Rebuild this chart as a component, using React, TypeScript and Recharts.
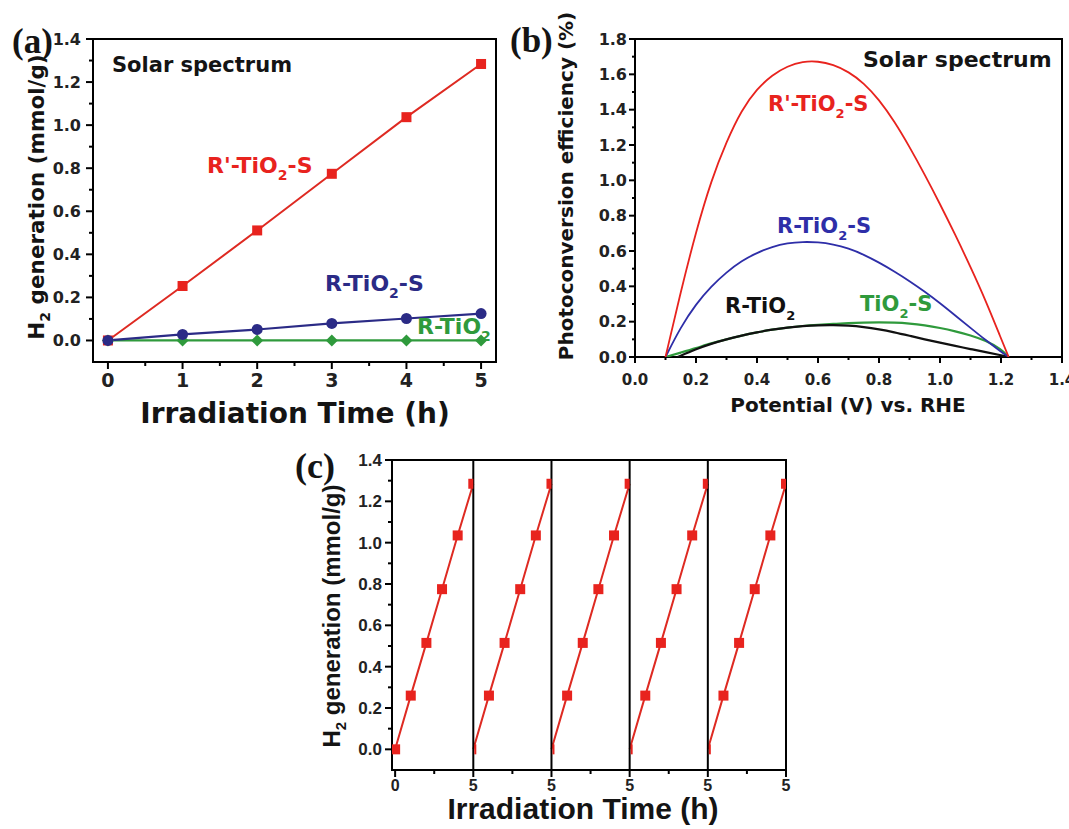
import React from 'react';
import { LineChart, Line, XAxis, YAxis, ReferenceArea, ReferenceLine } from 'recharts';

const SANS = '"DejaVu Sans", Verdana, sans-serif';
const ARIAL = '"Liberation Sans", Arial, sans-serif';
const SERIF = '"Liberation Serif", "Times New Roman", serif';

const RED = '#e8231e';
const RED_LINE = '#de2a22';
const NAVY = '#2b2b86';
const BLUE = '#2e2ea8';
const GREEN = '#2f9a3c';
const INK = '#141414';

// ---------- panel (a) ----------
const timeA = [0, 1, 2, 3, 4, 5];
const rPrimeTiO2S_A = [0, 0.253, 0.511, 0.774, 1.037, 1.284];
const rTiO2S_A = [0, 0.028, 0.051, 0.079, 0.102, 0.125];
const rTiO2_A = [0, 0, 0, 0, 0, 0];
const aXMajor = [0, 1, 2, 3, 4, 5];
const aXMinor = [0.5, 1.5, 2.5, 3.5, 4.5];
const hYMajor = [0, 0.2, 0.4, 0.6, 0.8, 1.0, 1.2, 1.4];
const hYMinor = [0.1, 0.3, 0.5, 0.7, 0.9, 1.1, 1.3];

// ---------- panel (b) ----------
const potB = [0.1, 0.15, 0.2, 0.25, 0.3, 0.35, 0.4, 0.45, 0.5, 0.55, 0.6, 0.65, 0.7, 0.75, 0.8, 0.85, 0.9, 0.95, 1.0, 1.05, 1.1, 1.15, 1.2, 1.225];
const rPrimeTiO2S_B = [0, 0.37, 0.71, 1.0, 1.22, 1.4, 1.518, 1.597, 1.647, 1.673, 1.675, 1.655, 1.615, 1.551, 1.457, 1.335, 1.19, 1.032, 0.866, 0.692, 0.51, 0.319, 0.105, 0];
const rTiO2S_B = [0, 0.17, 0.3, 0.4, 0.48, 0.545, 0.59, 0.625, 0.645, 0.652, 0.65, 0.638, 0.615, 0.58, 0.535, 0.485, 0.43, 0.37, 0.305, 0.235, 0.165, 0.095, 0.03, 0];
const tiO2S_B = [0, 0.025, 0.05, 0.078, 0.1, 0.122, 0.14, 0.155, 0.167, 0.176, 0.182, 0.187, 0.192, 0.195, 0.196, 0.195, 0.19, 0.18, 0.165, 0.146, 0.123, 0.093, 0.045, 0];
const potBlackB = [0.14, 0.2, 0.25, 0.3, 0.35, 0.4, 0.45, 0.5, 0.55, 0.6, 0.65, 0.7, 0.75, 0.8, 0.85, 0.9, 0.95, 1.0, 1.05, 1.1, 1.15, 1.2, 1.225];
const rTiO2_B = [0, 0.045, 0.075, 0.1, 0.122, 0.14, 0.155, 0.167, 0.175, 0.18, 0.181, 0.178, 0.17, 0.157, 0.14, 0.12, 0.1, 0.081, 0.063, 0.045, 0.027, 0.01, 0];
const bXMajor = [0, 0.2, 0.4, 0.6, 0.8, 1.0, 1.2, 1.4];
const bXMinor = [0.1, 0.3, 0.5, 0.7, 0.9, 1.1, 1.3];
const bYMajor = [0, 0.2, 0.4, 0.6, 0.8, 1.0, 1.2, 1.4, 1.6, 1.8];
const bYMinor = [0.1, 0.3, 0.5, 0.7, 0.9, 1.1, 1.3, 1.5, 1.7];

// ---------- panel (c) ----------
const cycleTime = [0, 1, 2, 3, 4, 5];
const cycleH2 = [0, 0.26, 0.515, 0.775, 1.035, 1.285];
const cycleStarts = [0, 5, 10, 15, 20];
const cBoundaries = [5, 10, 15, 20];
const cXMajor = [0, 5, 10, 15, 20, 25];
const cXLabels = ['0', '5', '5', '5', '5', '5'];
const cXMinor = [2.5, 7.5, 12.5, 17.5, 22.5];

// ---------- helpers ----------
const zip = (xs: number[], ys: number[]) => xs.map((x, i) => ({ x, y: ys[i] }));

type TickCfg = {
  majors: number[];
  label: (v: number) => string;
  side: 'bottom' | 'left';
  font: string;
  size: number;
  major: number;
  minor: number;
  gap: number;
};

function makeTick(cfg: TickCfg) {
  return (props: any) => {
    const { x, y, payload } = props;
    const v = payload.value as number;
    const isMajor = cfg.majors.some((m) => Math.abs(m - v) < 1e-6);
    const len = isMajor ? cfg.major : cfg.minor;
    if (cfg.side === 'bottom') {
      return (
        <g>
          <line x1={x} x2={x} y1={y} y2={y + len} stroke="#000" strokeWidth={2} />
          {isMajor && (
            <text x={x} y={y + cfg.gap} textAnchor="middle" fontFamily={cfg.font} fontWeight="bold" fontSize={cfg.size} fill="#222">
              {cfg.label(v)}
            </text>
          )}
        </g>
      );
    }
    return (
      <g>
        <line x1={x - len} x2={x} y1={y} y2={y} stroke="#000" strokeWidth={2} />
        {isMajor && (
          <text x={x - cfg.gap} y={y} dy="0.36em" textAnchor="end" fontFamily={cfg.font} fontWeight="bold" fontSize={cfg.size} fill="#222">
            {cfg.label(v)}
          </text>
        )}
      </g>
    );
  };
}

const squareDot = (fill: string, size: number) => (p: any) =>
  p.cx == null ? <g key={`s${p.index}`} /> : <rect key={`s${p.index}`} x={p.cx - size / 2} y={p.cy - size / 2} width={size} height={size} fill={fill} />;
const circleDot = (fill: string, r: number) => (p: any) =>
  p.cx == null ? <g key={`c${p.index}`} /> : <circle key={`c${p.index}`} cx={p.cx} cy={p.cy} r={r} fill={fill} />;
const diamondDot = (fill: string, r: number) => (p: any) =>
  p.cx == null ? (
    <g key={`d${p.index}`} />
  ) : (
    <polygon key={`d${p.index}`} points={`${p.cx},${p.cy - r} ${p.cx + r},${p.cy} ${p.cx},${p.cy + r} ${p.cx - r},${p.cy}`} fill={fill} />
  );

const cycleDot = (cycle: number) => (p: any) => {
  const k = `cy${cycle}-${p.index}`;
  if (p.cx == null) return <g key={k} />;
  const s = 10;
  if (p.index === cycleTime.length - 1) {
    return <rect key={k} x={p.cx - s / 2} y={p.cy - s / 2} width={s / 2} height={s} fill={RED} />;
  }
  if (p.index === 0 && cycle > 0) {
    return <rect key={k} x={p.cx + 1} y={p.cy - s / 2} width={2} height={s} fill={RED} />;
  }
  return <rect key={k} x={p.cx - s / 2} y={p.cy - s / 2} width={s} height={s} fill={RED} />;
};

const fmt1 = (v: number) => v.toFixed(1);

const axisCommon = {
  type: 'number' as const,
  interval: 0 as const,
  tickSize: 0,
  tickMargin: 0,
  axisLine: false,
  tickLine: false,
  allowDataOverflow: true,
};

function PanelA() {
  const ticksX = [...aXMajor, ...aXMinor].sort((a, b) => a - b);
  const ticksY = [...hYMajor, ...hYMinor].sort((a, b) => a - b);
  return (
    <LineChart width={530} height={400} margin={{ top: 39, right: 34, bottom: 37, left: 92 }}>
      <XAxis
        {...axisCommon}
        dataKey="x"
        domain={[-0.2, 5.2]}
        ticks={ticksX}
        height={1}
        tick={makeTick({ majors: aXMajor, label: (v) => String(v), side: 'bottom', font: SANS, size: 19, major: 7, minor: 4, gap: 25 })}
      />
      <YAxis
        {...axisCommon}
        domain={[-0.1, 1.4]}
        ticks={ticksY}
        width={1}
        tick={makeTick({ majors: hYMajor, label: fmt1, side: 'left', font: SANS, size: 16, major: 7, minor: 4, gap: 12 })}
      />
      <ReferenceArea x1={-0.2} x2={5.2} y1={-0.1} y2={1.4} fill="none" stroke="#000" strokeWidth={2} ifOverflow="visible" />
      <Line data={zip(timeA, rTiO2_A)} dataKey="y" stroke={GREEN} strokeWidth={2.2} dot={diamondDot(GREEN, 6)} activeDot={false} isAnimationActive={false} />
      <Line data={zip(timeA, rPrimeTiO2S_A)} dataKey="y" stroke={RED_LINE} strokeWidth={2} dot={squareDot(RED, 10)} activeDot={false} isAnimationActive={false} />
      <Line data={zip(timeA, rTiO2S_A)} dataKey="y" stroke={NAVY} strokeWidth={2.2} dot={circleDot(NAVY, 5.5)} activeDot={false} isAnimationActive={false} />
    </LineChart>
  );
}

function PanelB() {
  const ticksX = [...bXMajor, ...bXMinor].sort((a, b) => a - b);
  const ticksY = [...bYMajor, ...bYMinor].sort((a, b) => a - b);
  return (
    <LineChart width={539} height={400} margin={{ top: 39, right: 7, bottom: 42, left: 104 }}>
      <XAxis
        {...axisCommon}
        dataKey="x"
        domain={[0, 1.4]}
        ticks={ticksX}
        height={1}
        tick={makeTick({ majors: bXMajor, label: fmt1, side: 'bottom', font: SANS, size: 15, major: 6, minor: 3, gap: 28 })}
      />
      <YAxis
        {...axisCommon}
        domain={[0, 1.8]}
        ticks={ticksY}
        width={1}
        tick={makeTick({ majors: bYMajor, label: fmt1, side: 'left', font: SANS, size: 16, major: 6, minor: 3, gap: 8 })}
      />
      <ReferenceArea x1={0} x2={1.4} y1={0} y2={1.8} fill="none" stroke="#000" strokeWidth={2} ifOverflow="visible" />
      <Line type="basis" data={zip(potB, tiO2S_B)} dataKey="y" stroke={GREEN} strokeWidth={2.2} dot={false} activeDot={false} isAnimationActive={false} />
      <Line type="basis" data={zip(potBlackB, rTiO2_B)} dataKey="y" stroke="#111" strokeWidth={2.2} dot={false} activeDot={false} isAnimationActive={false} />
      <Line type="basis" data={zip(potB, rTiO2S_B)} dataKey="y" stroke={BLUE} strokeWidth={1.8} dot={false} activeDot={false} isAnimationActive={false} />
      <Line type="basis" data={zip(potB, rPrimeTiO2S_B)} dataKey="y" stroke={RED} strokeWidth={1.8} dot={false} activeDot={false} isAnimationActive={false} />
    </LineChart>
  );
}

function PanelC() {
  const ticksX = [...cXMajor, ...cXMinor].sort((a, b) => a - b);
  const ticksY = [...hYMajor, ...hYMinor].sort((a, b) => a - b);
  return (
    <LineChart width={520} height={399} margin={{ top: 30, right: 14, bottom: 58, left: 111 }}>
      <XAxis
        {...axisCommon}
        dataKey="x"
        domain={[-0.2, 25]}
        ticks={ticksX}
        height={1}
        tick={makeTick({ majors: cXMajor, label: (v) => cXLabels[cXMajor.indexOf(v)] ?? '', side: 'bottom', font: ARIAL, size: 16, major: 7, minor: 4, gap: 21 })}
      />
      <YAxis
        {...axisCommon}
        domain={[-0.1, 1.4]}
        ticks={ticksY}
        width={1}
        tick={makeTick({ majors: hYMajor, label: fmt1, side: 'left', font: ARIAL, size: 17, major: 7, minor: 4, gap: 10 })}
      />
      <ReferenceArea x1={-0.2} x2={25} y1={-0.1} y2={1.4} fill="none" stroke="#000" strokeWidth={2} ifOverflow="visible" />
      {cycleStarts.map((s, c) => (
        <Line
          key={`cycle${c}`}
          data={cycleTime.map((t, i) => ({ x: s + t, y: cycleH2[i] }))}
          dataKey="y"
          stroke={RED_LINE}
          strokeWidth={2}
          dot={cycleDot(c)}
          activeDot={false}
          isAnimationActive={false}
        />
      ))}
      {cBoundaries.map((b) => (
        <ReferenceLine key={`b${b}`} x={b} stroke="#000" strokeWidth={2} ifOverflow="visible" />
      ))}
    </LineChart>
  );
}

function Overlay() {
  return (
    <svg width={1069} height={829} style={{ position: 'absolute', left: 0, top: 0, pointerEvents: 'none' }}>
      {/* panel (a) */}
      <text x={12} y={53} fontFamily={SERIF} fontWeight="bold" fontSize={35} fill={INK}>(a)</text>
      <text x={112} y={72} fontFamily={SANS} fontWeight="bold" fontSize={21} fill={INK}>Solar spectrum</text>
      <text x={207} y={173} fontFamily={SANS} fontWeight="bold" fontSize={22} fill={RED}>
        R'-TiO<tspan fontSize={14} dy={7}>2</tspan><tspan dy={-7}>-S</tspan>
      </text>
      <text x={325} y={291} fontFamily={SANS} fontWeight="bold" fontSize={22} fill={NAVY}>
        R-TiO<tspan fontSize={14} dy={7}>2</tspan><tspan dy={-7}>-S</tspan>
      </text>
      <text x={417} y={334} fontFamily={SANS} fontWeight="bold" fontSize={22} fill={GREEN}>
        R-TiO<tspan fontSize={14} dy={7}>2</tspan>
      </text>
      <text x={44} y={197} transform="rotate(-90 44 197)" textAnchor="middle" fontFamily={SANS} fontWeight="bold" fontSize={21.5} fill={INK}>
        H<tspan fontSize={14} dy={6}>2</tspan><tspan dy={-6}> generation (mmol/g)</tspan>
      </text>
      <text x={295} y={423} textAnchor="middle" fontFamily={SANS} fontWeight="bold" fontSize={28} fill={INK}>Irradiation Time (h)</text>

      {/* panel (b) */}
      <text x={510} y={52} fontFamily={SERIF} fontWeight="bold" fontSize={35} fill={INK}>(b)</text>
      <text x={573} y={186} transform="rotate(-90 573 186)" textAnchor="middle" fontFamily={SANS} fontWeight="bold" fontSize={20} fill={INK}>
        Photoconversion efficiency (%)
      </text>
      <text x={863} y={67} fontFamily={SANS} fontWeight="bold" fontSize={22} fill={INK}>Solar spectrum</text>
      <text x={768} y={111} fontFamily={SANS} fontWeight="bold" fontSize={21} fill={RED}>
        R'-TiO<tspan fontSize={13} dy={7}>2</tspan><tspan dy={-7}>-S</tspan>
      </text>
      <text x={777} y={233} fontFamily={SANS} fontWeight="bold" fontSize={21} fill={BLUE}>
        R-TiO<tspan fontSize={13} dy={7}>2</tspan><tspan dy={-7}>-S</tspan>
      </text>
      <text x={725} y={313} fontFamily={SANS} fontWeight="bold" fontSize={21} fill="#111">
        R-TiO<tspan fontSize={13} dy={7}>2</tspan>
      </text>
      <text x={860} y={311} fontFamily={SANS} fontWeight="bold" fontSize={21} fill={GREEN}>
        TiO<tspan fontSize={13} dy={7}>2</tspan><tspan dy={-7}>-S</tspan>
      </text>
      <text x={848} y={412} textAnchor="middle" fontFamily={SANS} fontWeight="bold" fontSize={20} fill={INK}>Potential (V) vs. RHE</text>

      {/* panel (c) */}
      <text x={295} y={478} fontFamily={SERIF} fontWeight="bold" fontSize={36} fill={INK}>(c)</text>
      <text x={340} y={616} transform="rotate(-90 340 616)" textAnchor="middle" fontFamily={ARIAL} fontWeight="bold" fontSize={24} fill={INK}>
        H<tspan fontSize={15} dy={6}>2</tspan><tspan dy={-6}> generation (mmol/g)</tspan>
      </text>
      <text x={583} y={819} textAnchor="middle" fontFamily={ARIAL} fontWeight="bold" fontSize={30} fill={INK}>Irradiation Time (h)</text>
    </svg>
  );
}

export default function App() {
  return (
    <div style={{ position: 'absolute', left: 0, top: 0, width: 1069, height: 829, background: '#fff', overflow: 'hidden' }}>
      <div style={{ position: 'absolute', left: 0, top: 0 }}>
        <PanelA />
      </div>
      <div style={{ position: 'absolute', left: 530, top: 0 }}>
        <PanelB />
      </div>
      <div style={{ position: 'absolute', left: 280, top: 430 }}>
        <PanelC />
      </div>
      <Overlay />
    </div>
  );
}
